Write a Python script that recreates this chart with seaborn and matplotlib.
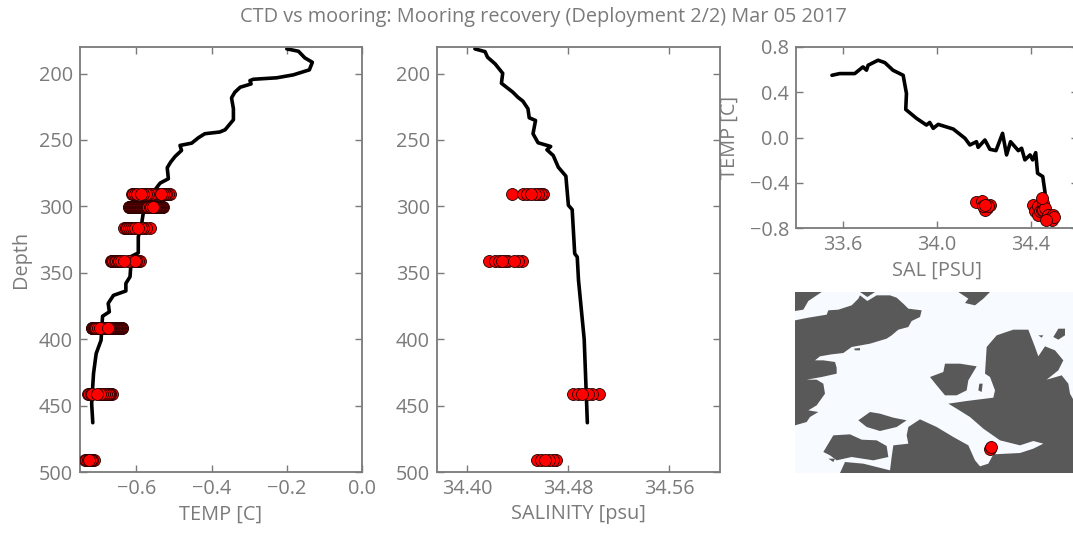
import matplotlib
matplotlib.use("Agg")
import matplotlib.pyplot as plt
import seaborn as sns

# CTD profile
ctd_depth = [181.4, 183.2, 188.2, 191.5, 197.2, 201, 203.2, 204.3, 205.3, 207.8, 210.3, 214, 218.3, 226.5,
             234.8, 242.3, 244, 245.3, 248.3, 252.4, 254.1, 257.9, 262.4, 266.7, 270.9, 279.2, 282.5, 289.2,
             298, 305.5, 313, 323, 335, 337.6, 353, 358, 363.7, 367, 373, 379.4, 382.7, 400.8, 410.8, 425.8,
             448.4, 462.9]
ctd_temp = [-0.200, -0.169, -0.152, -0.132, -0.140, -0.183, -0.227, -0.289, -0.298, -0.295, -0.324, -0.338,
            -0.347, -0.342, -0.342, -0.364, -0.378, -0.418, -0.435, -0.453, -0.484, -0.480, -0.497, -0.509,
            -0.518, -0.515, -0.537, -0.555, -0.564, -0.582, -0.586, -0.595, -0.595, -0.613, -0.617, -0.628,
            -0.628, -0.661, -0.675, -0.672, -0.690, -0.694, -0.707, -0.714, -0.719, -0.716]
sal_depth = [181.4, 183.5, 187.7, 192.7, 199.8, 207.3, 214, 217.8, 220.8, 226.5, 233.3, 235.3, 245.3, 252.1,
             254.9, 257.4, 261.7, 270.5, 277.2, 299.2, 302.4, 335.6, 338.1, 355.6, 400, 450, 462.9]
ctd_sal = [34.406, 34.414, 34.416, 34.422, 34.428, 34.427, 34.436, 34.440, 34.444, 34.448, 34.449, 34.454,
           34.452, 34.456, 34.466, 34.463, 34.468, 34.472, 34.478, 34.480, 34.483, 34.485, 34.487, 34.488,
           34.4925, 34.4945, 34.495]
ts_sal = [33.553, 33.586, 33.65, 33.685, 33.70, 33.707, 33.749, 33.778, 33.813, 33.856, 33.87, 33.867, 33.913,
          33.955, 33.969, 33.984, 34.005, 34.069, 34.119, 34.14, 34.168, 34.175, 34.204, 34.225, 34.251, 34.279,
          34.296, 34.313, 34.346, 34.36, 34.374, 34.396, 34.407, 34.42, 34.428, 34.45, 34.46]
ts_temp = [0.55, 0.565, 0.565, 0.624, 0.595, 0.639, 0.683, 0.662, 0.594, 0.55, 0.389, 0.248, 0.169, 0.11, 0.133,
           0.081, 0.116, 0.075, -0.007, -0.066, -0.037, -0.087, -0.022, -0.104, -0.116, 0.037, -0.154, -0.037,
           -0.116, -0.095, -0.198, -0.154, -0.198, -0.134, -0.316, -0.345, -0.49]

# mooring instruments, temperature by depth (draw order matters, brightest last)
temp_291 = [-0.613, -0.608, -0.603, -0.598, -0.511, -0.515, -0.520, -0.524, -0.530, -0.542, -0.550, -0.556, -0.562,
            -0.568, -0.575, -0.582, -0.588, -0.535]
temp_300 = [-0.621, -0.619, -0.617, -0.615, -0.613, -0.611, -0.609, -0.607, -0.605, -0.603, -0.601, -0.599, -0.597,
            -0.595, -0.593, -0.591, -0.589, -0.587, -0.585, -0.583, -0.581, -0.579, -0.577, -0.575, -0.573, -0.571,
            -0.569, -0.529, -0.531, -0.533, -0.535, -0.537, -0.539, -0.541, -0.543, -0.545, -0.547, -0.549, -0.551,
            -0.553, -0.565, -0.561, -0.557]
temp_316 = [-0.632, -0.628, -0.624, -0.619, -0.614, -0.609, -0.603, -0.564, -0.575, -0.582, -0.588, -0.595]
temp_341 = [-0.667, -0.664, -0.661, -0.658, -0.654, -0.650, -0.645, -0.640, -0.590, -0.596, -0.602, -0.611, -0.616,
            -0.622, -0.605, -0.633]
temp_391 = [-0.719, -0.717, -0.715, -0.713, -0.711, -0.709, -0.707, -0.637, -0.639, -0.641, -0.643, -0.645, -0.647,
            -0.649, -0.651, -0.653, -0.655, -0.657, -0.659, -0.661, -0.663, -0.665, -0.667, -0.669, -0.671, -0.673,
            -0.690, -0.688, -0.686, -0.684, -0.682, -0.680, -0.678, -0.702, -0.696, -0.6765]
temp_441 = [-0.730, -0.726, -0.722, -0.717, -0.666, -0.669, -0.672, -0.676, -0.681, -0.686, -0.691, -0.697, -0.706]
temp_491 = [-0.737, -0.733, -0.729, -0.713, -0.717, -0.721, -0.725]

# mooring instruments, salinity by depth
sal_291 = [34.4357, 34.4442, 34.4469, 34.4601, 34.4580, 34.4562, 34.4535, 34.4503]
sal_341 = [34.4172, 34.4217, 34.4250, 34.4429, 34.4400, 34.4323, 34.4300, 34.4371, 34.4275]
sal_441 = [34.4838, 34.4877, 34.5045, 34.4990, 34.4957, 34.4909]
sal_491 = [34.4551, 34.4583, 34.4703, 34.4679, 34.4647, 34.4615]

# mooring T/S
moor_sal = [34.168, 34.19, 34.225, 34.211, 34.204, 34.218, 34.197, 34.204, 34.41, 34.417, 34.431, 34.431, 34.438,
            34.445, 34.452, 34.452, 34.46, 34.474, 34.481, 34.495, 34.488, 34.499, 34.445, 34.464]
moor_temp = [-0.574, -0.565, -0.595, -0.624, -0.639, -0.609, -0.609, -0.600, -0.595, -0.653, -0.683, -0.609, -0.653,
             -0.639, -0.58, -0.639, -0.624, -0.683, -0.712, -0.683, -0.727, -0.706, -0.536, -0.733]

# map outlines
land_nw = [(45, 120), (85, 112), (140, 103), (145, 90), (175, 88), (215, 75), (235, 55), (240, 45), (262, 62), (290, 45),
           (330, 45), (350, 52), (372, 72), (385, 85), (425, 90), (420, 110), (395, 122), (385, 140), (355, 148),
           (335, 165), (320, 175), (270, 190), (215, 200), (190, 218), (155, 222), (120, 228), (105, 240), (130, 240),
           (165, 245), (170, 262), (170, 280), (125, 290), (80, 298), (110, 298), (130, 310), (135, 340), (110, 375),
           (85, 390), (115, 395), (90, 410), (80, 425), (45, 435)]
land_corner = [(45, 35), (125, 35), (85, 62), (70, 88), (45, 92)]
land_top = [(240, 35), (285, 35), (262, 50)]
land_top_right = [(535, 35), (630, 35), (610, 55), (585, 75), (555, 68), (565, 55)]
land_main = [(615, 280), (620, 200), (650, 165), (700, 148), (745, 148), (765, 200), (775, 228), (795, 198), (825, 210),
             (850, 240), (835, 270), (800, 298), (845, 285), (865, 310), (870, 340), (880, 358), (895, 358), (895, 578),
             (180, 578), (195, 545), (250, 550), (310, 565), (330, 570), (335, 530), (340, 495), (385, 490), (380, 465),
             (385, 440), (420, 417), (470, 440), (520, 470), (565, 495), (585, 540), (600, 558), (625, 550), (640, 522),
             (720, 518), (760, 505), (790, 490), (760, 482), (720, 495), (660, 480), (610, 445), (570, 410), (530, 385),
             (505, 370), (560, 362), (640, 352), (645, 330), (630, 290)]
land_mid = [(450, 290), (490, 275), (495, 250), (540, 250), (590, 258), (565, 300), (560, 330), (530, 345), (495, 345),
            (470, 315)]
land_islet = [(595, 330), (598, 310), (608, 310), (605, 335)]
land_south = [(235, 420), (270, 395), (300, 400), (340, 412), (380, 420), (350, 440), (300, 452), (260, 440)]
land_sw = [(130, 515), (160, 465), (210, 462), (245, 478), (290, 480), (320, 497), (325, 530), (280, 540), (215, 530),
           (170, 540), (150, 525)]
land_ne = [(820, 170), (835, 145), (855, 145), (855, 165), (835, 178)]
land_small1 = [(775, 165), (790, 165), (785, 172)]
land_small2 = [(222, 205), (240, 203), (240, 210), (225, 210)]
land_small3 = [(145, 535), (165, 535), (160, 545)]
map_land = [land_nw, land_corner, land_top, land_top_right, land_main, land_mid, land_islet, land_south, land_sw,
            land_ne, land_small1, land_small2, land_small3]
map_x = [631, 632]
map_y = [505, 500]

GREY = "#7a7a7a"
FS = 14.3
sns.set_style("ticks", {"axes.edgecolor": GREY, "xtick.color": GREY, "ytick.color": GREY, "text.color": GREY,
                        "axes.labelcolor": GREY, "xtick.direction": "in", "ytick.direction": "in",
                        "xtick.top": True, "ytick.right": True})
plt.rcParams["font.family"] = ["Open Sans", "DejaVu Sans"]


def add_axes(fig, left, top, right, bottom):
    return fig.add_axes([left / 1073, 1 - bottom / 533, (right - left) / 1073, (bottom - top) / 533])


def style_axes(ax):
    ax.tick_params(length=5, width=1, labelsize=FS, pad=5)
    for s in ax.spines.values():
        s.set_linewidth(1.3)
        s.set_visible(True)


def profile(x, y, ax):
    sns.lineplot(x=x, y=y, sort=False, estimator=None, color="k", linewidth=2.6, ax=ax)


def dots(x, y, ax):
    sns.scatterplot(x=x, y=y, color="red", edgecolor="#200000", linewidth=0.6, s=74, ax=ax, zorder=3)


fig = plt.figure(figsize=(10.73, 5.33), dpi=100)

ax = add_axes(fig, 80, 47, 362, 472)
profile(ctd_temp, ctd_depth, ax)
for d, vals in [(491, temp_491), (441, temp_441), (391.5, temp_391), (341, temp_341), (316, temp_316),
                (300.5, temp_300), (291, temp_291)]:
    dots(vals, [d] * len(vals), ax)
ax.set_xlim(-0.75, 0)
ax.set_ylim(500, 180)
ax.set_xticks([-0.6, -0.4, -0.2, 0.0])
ax.set_yticks([200, 250, 300, 350, 400, 450, 500])
ax.set_xlabel("TEMP [C]", fontsize=FS, labelpad=4)
ax.set_ylabel("Depth", fontsize=FS, labelpad=6)
style_axes(ax)

ax = add_axes(fig, 437, 47, 720, 472)
profile(ctd_sal, sal_depth, ax)
for d, vals in [(491, sal_491), (441, sal_441), (341, sal_341), (291, sal_291)]:
    dots(vals, [d] * len(vals), ax)
ax.set_xlim(34.376, 34.6)
ax.set_ylim(500, 180)
ax.set_xticks([34.40, 34.48, 34.56])
ax.set_xticklabels(["34.40", "34.48", "34.56"])
ax.set_yticks([200, 250, 300, 350, 400, 450, 500])
ax.set_xlabel("SALINITY [psu]", fontsize=FS, labelpad=4)
style_axes(ax)

ax = add_axes(fig, 796, 47, 1078, 228)
profile(ts_sal, ts_temp, ax)
dots(moor_sal, moor_temp, ax)
ax.set_xlim(33.4, 34.6)
ax.set_ylim(-0.8, 0.8)
ax.set_xticks([33.6, 34.0, 34.4])
ax.set_yticks([-0.8, -0.4, 0.0, 0.4, 0.8])
ax.set_xlabel("SAL [PSU]", fontsize=FS, labelpad=4)
ax.set_ylabel("TEMP [C]", fontsize=FS, labelpad=7)
style_axes(ax)

ax = add_axes(fig, 795, 292, 1078, 473)
for outline in map_land:
    ax.fill([p[0] for p in outline], [p[1] for p in outline], color="#595959", linewidth=0)
dots(map_x, map_y, ax)
ax.set_xlim(45, 894)
ax.set_ylim(578, 35)
ax.set_axis_off()
ax.add_patch(plt.Rectangle((0, 0), 1, 1, transform=ax.transAxes, color="#f7fbff", zorder=0))

fig.text(0.5065, 0.968, "CTD vs mooring: Mooring recovery (Deployment 2/2) Mar 05 2017", ha="center", va="center",
         fontsize=FS, color=GREY)
fig.savefig("out.png", dpi=100)
